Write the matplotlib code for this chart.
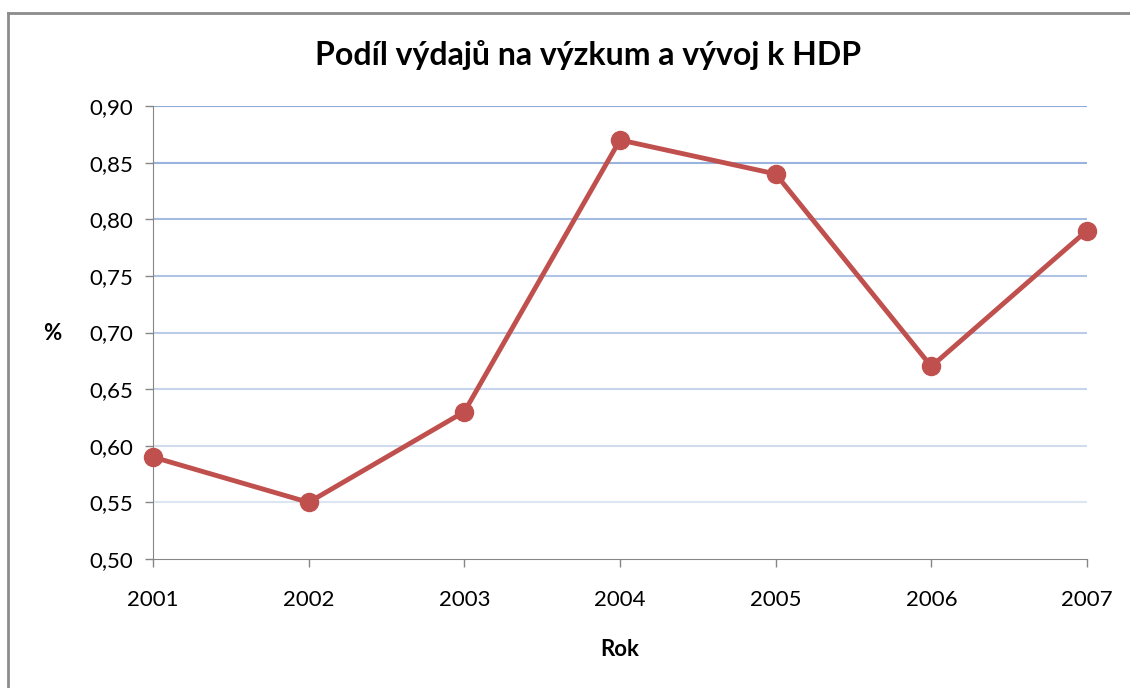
import numpy as np
import matplotlib.pyplot as plt

roky = [2001, 2002, 2003, 2004, 2005, 2006, 2007]
podil = [0.59, 0.55, 0.63, 0.87, 0.84, 0.67, 0.79]
yticks = [0.50, 0.55, 0.60, 0.65, 0.70, 0.75, 0.80, 0.85, 0.90]

plt.rcParams['font.family'] = ['Lato', 'DejaVu Sans']

fig = plt.figure(figsize=(11.3, 6.88), dpi=100)
ax = fig.add_axes([153/1130, 1 - 559/688, (1087 - 153)/1130, (559 - 106)/688])

# ramecek grafu (jen horni a leva hrana je videt)
fig.add_artist(plt.Line2D([8/1130, 8/1130], [0, 1 - 13/688], color='#8c8c8c', lw=2, transform=fig.transFigure))
fig.add_artist(plt.Line2D([8/1130, 1], [1 - 13/688, 1 - 13/688], color='#8c8c8c', lw=2, transform=fig.transFigure))

# mrizka s prechodem barvy
top = np.array([0x8e, 0xaa, 0xdb]) / 255
bot = np.array([0xdc, 0xe6, 0xf2]) / 255
for i, v in enumerate(yticks[1:]):
    t = i / (len(yticks) - 2)
    ax.axhline(v, color=bot * (1 - t) + top * t, lw=1.5, zorder=1)

ax.plot(roky, podil, color='#c0504d', lw=3.5, marker='o', markersize=13, zorder=3, clip_on=False)

ax.set_xlim(2001, 2007)
ax.set_ylim(0.50, 0.90)
ax.set_xticks(roky)
ax.set_yticks(yticks)
ax.set_yticklabels([f"{v:.2f}".replace('.', ',') for v in yticks])
ax.tick_params(labelsize=16, color='#868686', length=6, width=1, pad=8)
ax.tick_params(axis='x', pad=16)
for s in ['top', 'right']:
    ax.spines[s].set_visible(False)
for s in ['left', 'bottom']:
    ax.spines[s].set_color('#868686')

fig.text(588/1130, 1 - 55/688, "Podíl výdajů na výzkum a vývoj k HDP", fontsize=23, fontweight='bold', ha='center', va='center')
fig.text(620/1130, 1 - 650/688, "Rok", fontsize=16, fontweight='bold', ha='center', va='center')
fig.text(52/1130, 1 - 333/688, "%", fontsize=16, fontweight='bold', ha='center', va='center')

fig.savefig("out.png", dpi=100)
